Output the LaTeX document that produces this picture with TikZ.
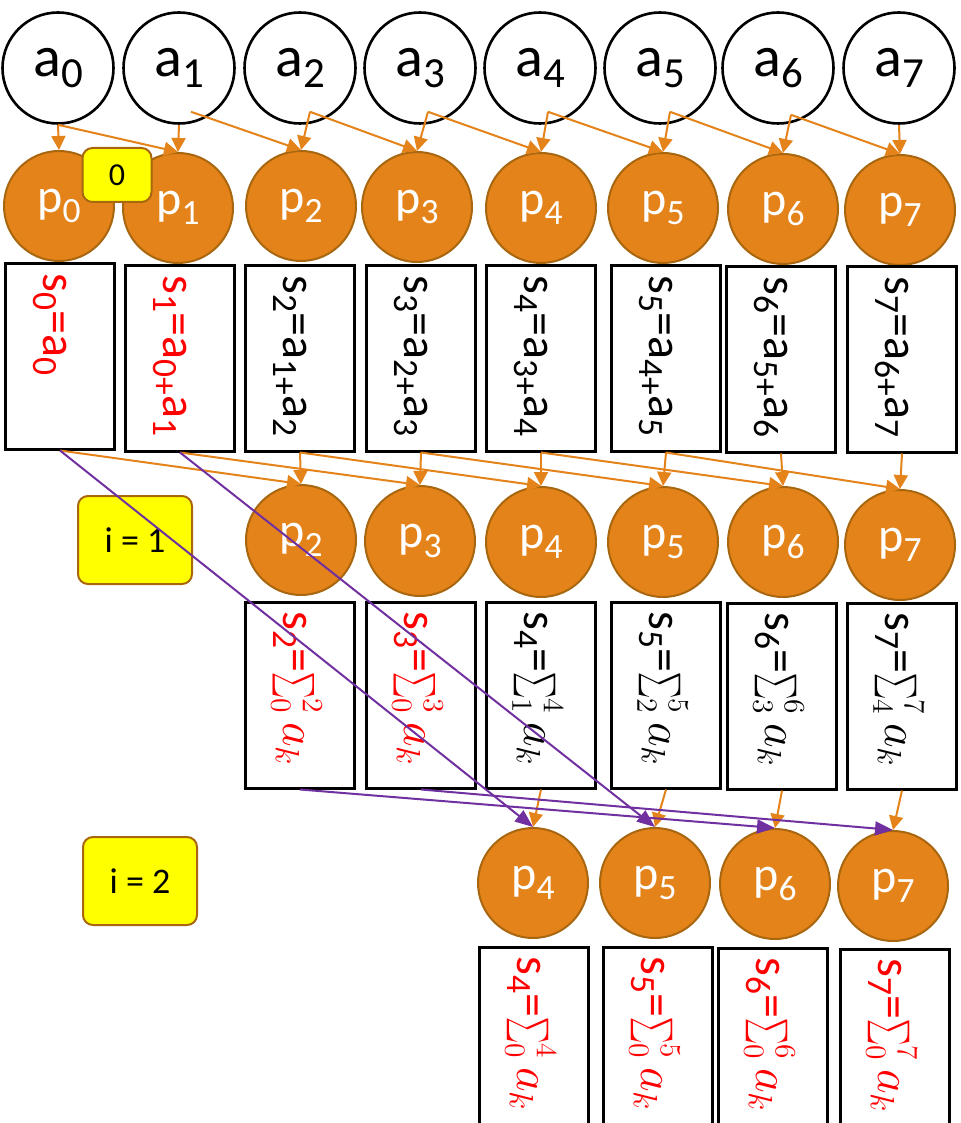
\RequirePackage{fix-cm}
\documentclass[tikz,border=0pt]{standalone}
\usepackage{amsmath}
\usepackage{graphicx}
\usepackage{fontspec}
\setmainfont{Carlito}
\usepackage{tikz}
\usetikzlibrary{arrows.meta,positioning,calc}
\definecolor{ora}{HTML}{E4831A}
\definecolor{oradark}{HTML}{A8660F}
\definecolor{tagyel}{HTML}{FFFF00}
\definecolor{purp}{HTML}{7030A0}
\definecolor{hot}{HTML}{FF0000}
\newcommand{\dn}[1]{\raisebox{-0.2em}{\scalebox{0.74}{#1}}}
\newcommand{\sm}[2]{{\fontsize{21}{22}\selectfont$\mathop{\scalebox{0.6}[1]{$\sum$}}\nolimits_{#1}^{#2}$}\,$a_k$}
\tikzset{
  inval/.style={circle,draw=black,line width=1.3pt,minimum size=55.5pt,inner sep=0pt,
    font=\fontsize{29}{30}\selectfont},
  proc/.style={circle,draw=oradark,fill=ora,line width=1pt,minimum size=55pt,inner sep=0pt,
    text=white,font=\fontsize{24}{26}\selectfont},
  sumbox/.style={draw=black,line width=1.5pt,minimum width=54.5pt,minimum height=93pt,inner sep=0pt},
  sumtext/.style={rotate=-90,anchor=base west,inner sep=0pt,font=\fontsize{24}{26}\selectfont},
  tag/.style={draw=oradark,fill=tagyel,line width=1pt,rounded corners=5pt,inner sep=0pt},
  feed/.style={-{Triangle[length=7pt,width=7pt]},line width=1pt,ora},
  pass/.style={-{Triangle[length=9pt,width=7pt]},line width=1pt,purp}
}

\begin{document}
\begin{tikzpicture}[x=0.5pt,y=-0.5pt]
\useasboundingbox (0,0) rectangle (960,1123);
% input values
\node[inval] (a0) at (58,68) {a\dn{0}};
\node[inval] (a1) at (179,68) {a\dn{1}};
\node[inval] (a2) at (300,68) {a\dn{2}};
\node[inval] (a3) at (420,68) {a\dn{3}};
\node[inval] (a4) at (540,68) {a\dn{4}};
\node[inval] (a5) at (660,68) {a\dn{5}};
\node[inval] (a6) at (778,68) {a\dn{6}};
\node[inval] (a7) at (899,68) {a\dn{7}};
% step 0
\node[proc] (p0) at (59,206) {p\dn{0}};
\node[proc] (p1) at (178,208) {p\dn{1}};
\node[proc] (p2) at (301,206) {p\dn{2}};
\node[proc] (p3) at (417,207) {p\dn{3}};
\node[proc] (p4) at (541,208) {p\dn{4}};
\node[proc] (p5) at (663,208) {p\dn{5}};
\node[proc] (p6) at (783,209) {p\dn{6}};
\node[proc] (p7) at (900,210) {p\dn{7}};
\node[tag,minimum width=34.5pt,minimum height=27pt,font=\fontsize{16}{18}\selectfont] (t0) at (117,175) {0};
\node[sumbox] (s0) at (60,356) {};
\node[sumbox] (s1) at (180,358) {};
\node[sumbox] (s2) at (300,358) {};
\node[sumbox] (s3) at (421,358) {};
\node[sumbox] (s4) at (541,358) {};
\node[sumbox] (s5) at (666,358) {};
\node[sumbox] (s6) at (781,359) {};
\node[sumbox] (s7) at (902,359) {};
\node[sumtext,text=hot] (s0t) at ($(s0.north)+(-17,12)$) {s\dn{0}=a\dn{0}};
\node[sumtext,text=hot] (s1t) at ($(s1.north)+(-17,12)$) {s\dn{1}=a\dn{0+}a\dn{1}};
\node[sumtext] (s2t) at ($(s2.north)+(-17,12)$) {s\dn{2}=a\dn{1+}a\dn{2}};
\node[sumtext] (s3t) at ($(s3.north)+(-17,12)$) {s\dn{3}=a\dn{2+}a\dn{3}};
\node[sumtext] (s4t) at ($(s4.north)+(-17,12)$) {s\dn{4}=a\dn{3+}a\dn{4}};
\node[sumtext] (s5t) at ($(s5.north)+(-17,12)$) {s\dn{5}=a\dn{4+}a\dn{5}};
\node[sumtext] (s6t) at ($(s6.north)+(-17,12)$) {s\dn{6}=a\dn{5+}a\dn{6}};
\node[sumtext] (s7t) at ($(s7.north)+(-17,12)$) {s\dn{7}=a\dn{6+}a\dn{7}};
% step i = 1
\node[tag,minimum width=57pt,minimum height=44pt,font=\fontsize{18}{20}\selectfont] (t1) at (135,540) {i = 1};
\node[proc] (p2b) at (301,540) {p\dn{2}};
\node[proc] (p3b) at (420,541) {p\dn{3}};
\node[proc] (p4b) at (541,542) {p\dn{4}};
\node[proc] (p5b) at (663,542) {p\dn{5}};
\node[proc] (p6b) at (783,542) {p\dn{6}};
\node[proc] (p7b) at (900,545) {p\dn{7}};
\node[sumbox] (s2b) at (300,695) {};
\node[sumbox] (s3b) at (421,695) {};
\node[sumbox] (s4b) at (541,695) {};
\node[sumbox] (s5b) at (666,695) {};
\node[sumbox] (s6b) at (782,696) {};
\node[sumbox] (s7b) at (902,696) {};
\node[sumtext,text=hot] (s2bt) at ($(s2b.north)+(-17,11)$) {s\dn{2}=\sm{0}{2}};
\node[sumtext,text=hot] (s3bt) at ($(s3b.north)+(-17,11)$) {s\dn{3}=\sm{0}{3}};
\node[sumtext] (s4bt) at ($(s4b.north)+(-17,11)$) {s\dn{4}=\sm{1}{4}};
\node[sumtext] (s5bt) at ($(s5b.north)+(-17,11)$) {s\dn{5}=\sm{2}{5}};
\node[sumtext] (s6bt) at ($(s6b.north)+(-17,11)$) {s\dn{6}=\sm{3}{6}};
\node[sumtext] (s7bt) at ($(s7b.north)+(-17,11)$) {s\dn{7}=\sm{4}{7}};
% step i = 2
\node[tag,minimum width=57pt,minimum height=44pt,font=\fontsize{18}{20}\selectfont] (t2) at (140,881) {i = 2};
\node[proc] (p4c) at (533,883) {p\dn{4}};
\node[proc] (p5c) at (655,883) {p\dn{5}};
\node[proc] (p6c) at (775,884) {p\dn{6}};
\node[proc] (p7c) at (893,886) {p\dn{7}};
\node[sumbox] (s4c) at (534,1040) {};
\node[sumbox] (s5c) at (658,1040) {};
\node[sumbox] (s6c) at (773,1041) {};
\node[sumbox] (s7c) at (895,1042) {};
\node[sumtext,text=hot] (s4ct) at ($(s4c.north)+(-17,11)$) {s\dn{4}=\sm{0}{4}};
\node[sumtext,text=hot] (s5ct) at ($(s5c.north)+(-17,11)$) {s\dn{5}=\sm{0}{5}};
\node[sumtext,text=hot] (s6ct) at ($(s6c.north)+(-17,11)$) {s\dn{6}=\sm{0}{6}};
\node[sumtext,text=hot] (s7ct) at ($(s7c.north)+(-17,11)$) {s\dn{7}=\sm{0}{7}};
% inputs to step 0
\coordinate (j1) at ($(a1.south)+(12,-13)$);
\coordinate (j2) at ($(a2.south)+(10,-13)$);
\coordinate (j3) at ($(a3.south)+(8,-13)$);
\coordinate (j4) at ($(a4.south)+(8,-13)$);
\coordinate (j5) at ($(a5.south)+(10,-13)$);
\coordinate (j6) at ($(a6.south)+(13,-10)$);
\draw[feed] (a0.south)--(p0.north);
\draw[feed] (a0.south)--(p1.north);
\draw[feed] (a1.south)--(p1.north);
\draw[feed] (j1)--(p2.north);
\draw[feed] (j2)--(p2.north);
\draw[feed] (j2)--(p3.north);
\draw[feed] (j3)--(p3.north);
\draw[feed] (j3)--(p4.north);
\draw[feed] (j4)--(p4.north);
\draw[feed] (j4)--(p5.north);
\draw[feed] (j5)--(p5.north);
\draw[feed] (j5)--(p6.north);
\draw[feed] (j6)--(p6.north);
\draw[feed] (j6)--(p7.north);
\draw[feed] (a7.south)--(p7.north);
% step 0 to step 1
\draw[feed] (s0.south)--(p2b.north);
\draw[feed] (s1.south)--(p3b.north);
\draw[feed] (s2.south)--(p2b.north);
\draw[feed] (s2.south)--(p4b.north);
\draw[feed] (s3.south)--(p3b.north);
\draw[feed] (s3.south)--(p5b.north);
\draw[feed] (s4.south)--(p4b.north);
\draw[feed] (s4.south)--(p6b.north);
\draw[feed] (s5.south)--(p5b.north);
\draw[feed] (s5.south)--(p7b.north);
\draw[feed] (s6.south)--(p6b.north);
\draw[feed] (s7.south)--(p7b.north);
% step 1 to step 2
\draw[feed] (s4b.south)--(p4c.north);
\draw[feed] (s5b.south)--(p5c.north);
\draw[feed] (s6b.south)--(p6c.north);
\draw[feed] (s7b.south)--(p7c.north);
\draw[pass] (s0.south)--(p4c.north);
\draw[pass] (s1.south)--(p5c.north);
\draw[pass] (s2b.south)--(p6c.north);
\draw[pass] (s3b.south)--(p7c.north);
\end{tikzpicture}
\end{document}
